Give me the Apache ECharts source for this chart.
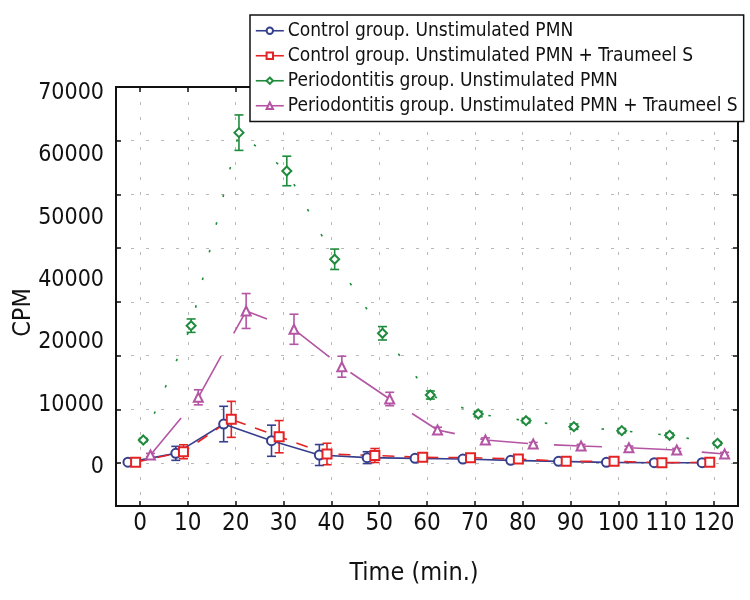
<!DOCTYPE html>
<html>
<head>
<meta charset="utf-8">
<script src="https://cdn.jsdelivr.net/npm/echarts@6/dist/echarts.min.js"></script>
<style>
html,body{margin:0;padding:0;background:#fff;}
#chart{width:750px;height:600px;}
</style>
</head>
<body>
<div id="chart"></div>
<script>
// ---- data ----
const times = [0, 10, 20, 30, 40, 50, 60, 70, 80, 90, 100, 110, 120];
const xTickLabels = ['0','10','20','30','40','50','60','70','80','90','100','110','120'];
const yTickLabels = ['0','10000','20000','40000','50000','60000','70000'];

const seriesNames = [
  'Control group. Unstimulated PMN',
  'Control group. Unstimulated PMN + Traumeel S',
  'Periodontitis group. Unstimulated PMN',
  'Periodontitis group. Unstimulated PMN + Traumeel S'
];
// horizontal jitter (minutes) used in the original plot to separate the groups
const timeOffsets = [-2.5, -0.9, 0.7, 2.2];

const controlMean = [150, 1800, 7260, 4150, 1490, 1000, 870, 740, 500, 310, 130, 60, 60];
const controlErr  = [200, 1300, 3300, 2900, 1950, 1100, 200, 200, 200, 200, 200, 200, 200];
const controlTMean = [130, 2100, 8130, 4900, 1680, 1400, 1060, 990, 740, 310, 310, 60, 130];
const controlTErr  = [200, 1300, 3350, 3000, 2000, 1300, 300, 200, 200, 200, 200, 200, 200];
const perioMean = [4280, 25570, 61500, 54370, 37930, 24150, 12660, 9120, 7880, 6770, 6030, 5160, 3670];
const perioErr  = [300, 1250, 3300, 2750, 1900, 1250, 750, 500, 400, 500, 400, 400, 300];
const perioTMean = [1490, 12230, 28300, 24900, 17930, 11920, 6150, 4280, 3540, 3170, 2850, 2420, 1680];
const perioTErr  = [300, 1400, 3250, 2800, 1950, 1250, 500, 400, 300, 300, 300, 300, 300];

const means = [controlMean, controlTMean, perioMean, perioTMean];
const errs = [controlErr, controlTErr, perioErr, perioTErr];

// ---- styles ----
const colors = ['#353f8e', '#e42424', '#1f8b3c', '#b455a3'];
const symbols = ['emptyCircle', 'emptyRect', 'emptyDiamond', 'emptyTriangle'];
const lineTypes = ['solid', [12, 10], [2.5, 26], [48, 26]];
const FONT = "'Liberation Sans Narrow', 'DejaVu Sans Condensed', 'Arial Narrow', sans-serif";

const chart = echarts.init(document.getElementById('chart'), null, {renderer: 'canvas'});

const lineSeries = means.map((m, i) => ({
  name: seriesNames[i],
  type: 'line',
  xAxisIndex: 0,
  yAxisIndex: 0,
  data: times.map((t, k) => [t + timeOffsets[i], m[k]]),
  symbol: symbols[i],
  symbolSize: 9,
  showAllSymbol: true,
  clip: false,
  z: 3,
  itemStyle: {color: colors[i], borderWidth: 1.6},
  lineStyle: {color: colors[i], width: 1.6, type: lineTypes[i]},
  emphasis: {disabled: true},
  animation: false
}));

const errSeries = means.map((m, i) => ({
  name: seriesNames[i] + ' err',
  type: 'custom',
  xAxisIndex: 0,
  yAxisIndex: 0,
  clip: false,
  z: 2,
  silent: true,
  animation: false,
  data: times.map((t, k) => [t + timeOffsets[i], m[k] - errs[i][k], m[k] + errs[i][k]]),
  renderItem: function (params, api) {
    const lo = api.coord([api.value(0), api.value(1)]);
    const hi = api.coord([api.value(0), api.value(2)]);
    const hw = 4.5;
    const style = {stroke: colors[i], lineWidth: 1.6, fill: null};
    return {
      type: 'group',
      children: [
        {type: 'line', shape: {x1: lo[0], y1: lo[1], x2: hi[0], y2: hi[1]}, style: style},
        {type: 'line', shape: {x1: lo[0] - hw, y1: lo[1], x2: lo[0] + hw, y2: lo[1]}, style: style},
        {type: 'line', shape: {x1: hi[0] - hw, y1: hi[1], x2: hi[0] + hw, y2: hi[1]}, style: style}
      ]
    };
  }
}));

const gridLine = {show: true, lineStyle: {color: '#b8b8b8', width: 1, type: [3, 12]}};
const hidden = {show: false};
const tickStyle = {show: true, inside: true, length: 5, lineStyle: {color: '#111', width: 1.5}};

const option = {
  backgroundColor: '#ffffff',
  animation: false,
  textStyle: {fontFamily: FONT},
  grid: [
    // 0: frame + data
    {left: 116, right: 12, top: 87, bottom: 94, show: true, borderColor: '#111', borderWidth: 2, backgroundColor: 'transparent', z: 5},
    // 1: x ticks / vertical grid lines
    {left: 140, right: 36, top: 87, bottom: 94},
    // 2: y ticks / horizontal grid lines
    {left: 116, right: 12, top: 87, bottom: 137},
    // 3: y tick labels (as placed in the original)
    {left: 116, right: 12, top: 93, bottom: 133}
  ],
  xAxis: [
    {gridIndex: 0, type: 'value', min: -5, max: 125, axisLine: hidden, axisTick: hidden, axisLabel: hidden, splitLine: hidden},
    {gridIndex: 1, type: 'value', min: 0, max: 120, interval: 10, position: 'bottom',
      axisLine: hidden,
      axisTick: tickStyle,
      axisLabel: {show: true, fontSize: 24, color: '#111', margin: 6, fontFamily: FONT,
        showMinLabel: true, showMaxLabel: true, hideOverlap: false,
        formatter: v => xTickLabels[times.indexOf(v)] || ''},
      splitLine: gridLine,
      name: 'Time (min.)', nameLocation: 'middle', nameGap: 55,
      nameTextStyle: {fontSize: 25, color: '#111', fontFamily: FONT, padding: [0, 26, 0, 0]}},
    {gridIndex: 1, type: 'value', min: 0, max: 120, interval: 10, position: 'top',
      axisLine: hidden, axisTick: tickStyle, axisLabel: hidden, splitLine: hidden},
    {gridIndex: 2, type: 'value', min: 0, max: 1, show: false},
    {gridIndex: 3, type: 'value', min: 0, max: 1, show: false}
  ],
  yAxis: [
    {gridIndex: 0, type: 'value', min: -8000, max: 70000, axisLine: hidden, axisTick: hidden, axisLabel: hidden, splitLine: hidden,
      name: 'CPM', nameLocation: 'middle', nameGap: 80, nameRotate: 90,
      nameTextStyle: {fontSize: 25, color: '#111', fontFamily: FONT, padding: [0, 32, 0, 0]}},
    {gridIndex: 1, type: 'value', min: 0, max: 1, show: false},
    {gridIndex: 2, type: 'value', min: 0, max: 70000, interval: 10000, position: 'left',
      axisLine: hidden, axisTick: tickStyle, axisLabel: hidden, splitLine: gridLine},
    {gridIndex: 2, type: 'value', min: 0, max: 70000, interval: 10000, position: 'right',
      axisLine: hidden, axisTick: tickStyle, axisLabel: hidden, splitLine: hidden},
    {gridIndex: 3, type: 'value', min: 0, max: yTickLabels.length - 1, interval: 1, position: 'left',
      axisLine: hidden, axisTick: hidden, splitLine: hidden,
      axisLabel: {show: true, fontSize: 23, color: '#111', margin: 12, fontFamily: FONT,
        showMinLabel: true, showMaxLabel: true, hideOverlap: false,
        formatter: v => yTickLabels[v] || ''}}
  ],
  legend: {
    show: true,
    orient: 'vertical',
    left: 250,
    top: 15,
    padding: [5, 6, 5, 5],
    itemGap: 3.5,
    itemWidth: 28,
    itemHeight: 8,
    backgroundColor: '#ffffff',
    borderColor: '#111',
    borderWidth: 1.5,
    borderRadius: 0,
    data: seriesNames,
    lineStyle: {type: 'solid', width: 1.6},
    textStyle: {fontSize: 19, color: '#111', fontFamily: FONT, lineHeight: 21.5, padding: [0, 0, 0, -1]},
    selectedMode: false,
    z: 10
  },
  series: [...errSeries, ...lineSeries]
};
chart.setOption(option);
</script>
</body>
</html>
